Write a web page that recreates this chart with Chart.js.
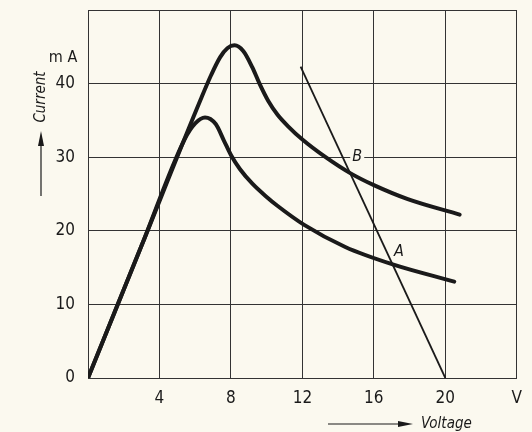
<!DOCTYPE html>
<html>
<head>
<meta charset="utf-8">
<script src="https://cdn.jsdelivr.net/npm/chart.js@4"></script>
<style>
  html, body { margin: 0; padding: 0; background: #fbf9ef; }
  #wrap { width: 532px; height: 432px; }
</style>
</head>
<body>
<div id="wrap"><canvas id="c" width="532" height="432"></canvas></div>
<script>
// curve with the high peak (B)
const upperV = [0, 3, 6.3, 6.9, 7.4, 7.8, 8.2, 8.7, 9.2, 9.6, 10.1, 10.6, 11.2, 12, 13.3, 14.7, 16, 17.9, 20.8];
const upperI = [0, 18, 37.8, 41.2, 43.6, 44.8, 45.2, 44.4, 42.2, 40, 37.6, 35.8, 34.2, 32.4, 30, 27.8, 26.2, 24.3, 22.2];
// curve with the low peak (A)
const lowerV = [0, 3, 5.4, 6.0, 6.55, 7.15, 7.6, 8, 8.5, 9.2, 10, 10.6, 12.1, 14.4, 17.1, 20.5];
const lowerI = [0, 18, 32.4, 34.6, 35.4, 34.5, 32.3, 30.3, 28.4, 26.4, 24.6, 23.4, 20.8, 17.8, 15.4, 13.1];
// load line
const loadV = [11.9, 20];
const loadI = [42.3, 0];

const xTicks = [0, 4, 8, 12, 16, 20, 24];
const yTicks = [0, 10, 20, 30, 40, 50];

const FONT = "'Liberation Sans Narrow', 'DejaVu Sans Condensed', sans-serif";
const INK = "#1a1a1a";
const BG = "#fbf9ef";

function pts(xs, ys) {
  return xs.map((x, i) => ({ x: x, y: ys[i] }));
}

const deco = {
  id: "deco",
  beforeDraw(chart) {
    const ctx = chart.ctx;
    ctx.save();
    ctx.fillStyle = BG;
    ctx.fillRect(0, 0, chart.width, chart.height);
    ctx.restore();
  },
  afterDatasetsDraw(chart) {
    const ctx = chart.ctx;
    const xs = chart.scales.x, ys = chart.scales.y;
    ctx.save();
    ctx.fillStyle = INK;
    ctx.strokeStyle = INK;

    // point labels, B sits on the grid line so clear behind it
    ctx.font = "italic 16px " + FONT;
    ctx.textAlign = "center";
    ctx.textBaseline = "middle";
    let bx = xs.getPixelForValue(15.07), by = ys.getPixelForValue(30);
    ctx.fillStyle = BG;
    ctx.fillRect(bx - 7, by - 8, 14, 16);
    ctx.fillStyle = INK;
    ctx.fillText("B", bx, by);
    ctx.fillText("A", xs.getPixelForValue(17.4), ys.getPixelForValue(17.2));

    // unit label
    ctx.font = "16px " + FONT;
    ctx.fillText("m A", 63, 58);

    // y axis title with arrow
    ctx.save();
    ctx.translate(41, 97);
    ctx.rotate(-Math.PI / 2);
    ctx.font = "italic 15px " + FONT;
    ctx.fillText("Current", 0, 0);
    ctx.restore();
    ctx.lineWidth = 1.2;
    ctx.beginPath();
    ctx.moveTo(41, 196);
    ctx.lineTo(41, 140);
    ctx.stroke();
    ctx.beginPath();
    ctx.moveTo(41, 131);
    ctx.lineTo(38, 146);
    ctx.lineTo(44, 146);
    ctx.closePath();
    ctx.fill();

    // x axis title with arrow
    ctx.font = "italic 15px " + FONT;
    ctx.textAlign = "left";
    ctx.fillText("Voltage", 421, 424);
    ctx.beginPath();
    ctx.moveTo(328, 424);
    ctx.lineTo(402, 424);
    ctx.stroke();
    ctx.beginPath();
    ctx.moveTo(413, 424);
    ctx.lineTo(398, 421);
    ctx.lineTo(398, 427);
    ctx.closePath();
    ctx.fill();
    ctx.restore();
  }
};

const curveStyle = {
  showLine: true,
  borderColor: INK,
  borderWidth: 4,
  pointRadius: 0,
  cubicInterpolationMode: "monotone",
  borderCapStyle: "round",
  borderJoinStyle: "round"
};

new Chart(document.getElementById("c"), {
  type: "scatter",
  data: {
    datasets: [
      Object.assign({ data: pts(upperV, upperI) }, curveStyle),
      Object.assign({ data: pts(lowerV, lowerI) }, curveStyle),
      {
        data: pts(loadV, loadI),
        showLine: true,
        borderColor: INK,
        borderWidth: 1.8,
        pointRadius: 0
      }
    ]
  },
  options: {
    responsive: false,
    animation: false,
    layout: { padding: { left: 0, right: 2, top: 10, bottom: 0 } },
    plugins: { legend: { display: false }, tooltip: { enabled: false } },
    scales: {
      x: {
        type: "linear",
        min: 0,
        max: 24,
        afterBuildTicks: s => { s.ticks = xTicks.map(v => ({ value: v })); },
        afterFit: s => { s.height = 54; },
        border: { color: "#333", width: 1 },
        grid: { color: "#333", lineWidth: 1, drawTicks: false },
        ticks: {
          color: INK,
          font: { family: FONT, size: 17 },
          padding: 10,
          maxRotation: 0,
          callback: v => v === 24 ? "V" : (v === 0 ? "" : v)
        }
      },
      y: {
        min: 0,
        max: 50,
        afterBuildTicks: s => { s.ticks = yTicks.map(v => ({ value: v })); },
        afterFit: s => { s.width = 88; s.paddingTop = 0; s.paddingBottom = 0; },
        border: { color: "#333", width: 1 },
        grid: { color: "#333", lineWidth: 1, drawTicks: false },
        ticks: {
          color: INK,
          font: { family: FONT, size: 17 },
          padding: 13,
          callback: v => v === 50 ? "" : v
        }
      }
    }
  },
  plugins: [deco]
});
</script>
</body>
</html>
